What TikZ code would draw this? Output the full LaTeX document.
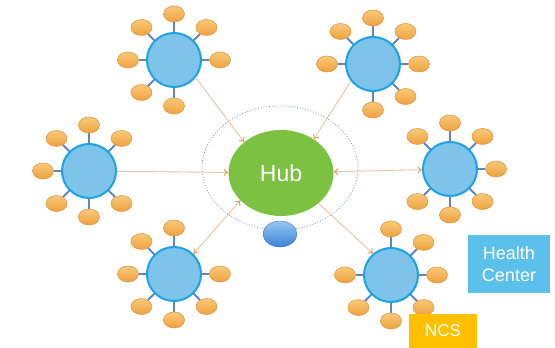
\documentclass[tikz,border=0pt]{standalone}
\usepackage{fontspec}
\setmainfont{Liberation Sans}
\usetikzlibrary{shapes.geometric,arrows.meta,calc}

\definecolor{hubgreen}{HTML}{7DC142}
\definecolor{cfill}{HTML}{7EC3EA}
\definecolor{cedge}{HTML}{1BA3E2}
\definecolor{sattop}{HTML}{F9C978}
\definecolor{satbot}{HTML}{EEA23F}
\definecolor{satedge}{HTML}{E0923A}
\definecolor{spokeblue}{HTML}{5E86C2}
\definecolor{linkcol}{HTML}{E2C4AE}
\definecolor{tipcol}{HTML}{EE9A50}
\definecolor{ringcol}{HTML}{7C8BA0}
\definecolor{dottop}{HTML}{95C8F2}
\definecolor{dotbot}{HTML}{3C82D4}
\definecolor{hcblue}{HTML}{5BC0EB}
\definecolor{ncsgold}{HTML}{FFC000}

\tikzset{
  hubnode/.style={ellipse, fill=hubgreen, minimum width=105pt, minimum height=86pt,
    inner sep=0pt, text=white, font=\fontsize{23}{23}\selectfont},
  cnode/.style={circle, fill=cfill, draw=cedge, line width=2pt, minimum size=54pt, inner sep=0pt},
  sat/.style={ellipse, draw=satedge, line width=0.5pt, top color=sattop, bottom color=satbot,
    minimum width=21pt, minimum height=16pt, inner sep=0pt},
  spoke/.style={draw=spokeblue, line width=2pt},
  link/.style={draw=linkcol, line width=0.9pt},
  tipend/.style={-{To[length=4.5pt,width=7pt,color=tipcol]}},
  tipboth/.style={{To[length=4.5pt,width=7pt,color=tipcol]}-{To[length=4.5pt,width=7pt,color=tipcol]}},
  ring/.style={ellipse, draw=ringcol, dotted, line width=0.8pt, minimum width=156pt, minimum height=124pt},
  dotnode/.style={ellipse, top color=dottop, bottom color=dotbot, draw=dotbot!80!black, line width=0.3pt,
    minimum width=34pt, minimum height=26pt, inner sep=0pt},
  labelbox/.style={rectangle, text=white, inner sep=0pt, align=center}
}

% a blue circle with orange satellites; #4 is the direction left free for the link
\newcommand\makecluster[4]{%
  \node[cnode] (#1) at (#2,#3) {};
  \foreach \a in {0,45,...,315}{%
    \ifnum\a=#4\relax\else
      \node[sat] (#1-\a) at ($(#1)+(\a:46pt)$) {};
      \draw[spoke] (#1.\a) -- (#1-\a);
    \fi
  }%
}

\begin{document}
\begin{tikzpicture}[x=1pt,y=-1pt]
  \useasboundingbox (0,0) rectangle (555,348);
  \fill[white] (0,0) rectangle (555,348);

  % dotted ring round the hub
  \node[ring] (ring) at (280,168) {};

  % clusters
  \makecluster{tl}{174}{60}{315}
  \makecluster{tr}{373}{64}{225}
  \makecluster{lf}{89}{171}{0}
  \makecluster{rt}{450}{169}{180}
  \makecluster{bl}{174}{274}{45}
  \makecluster{br}{391}{275}{135}

  % hub
  \node[hubnode] (hub) at (281,173) {Hub};
  \node[dotnode] (dot) at (280,234) {};

  % links
  \draw[link,tipend] (tl.321) -- (hub.140);
  \draw[link,tipend] (tr.218) -- (hub.46);
  \draw[link,tipend] (lf) -- (hub);
  \draw[link,tipboth] (hub) -- (rt);
  \draw[link,tipboth] (bl.46) -- (hub.214);
  \draw[link,tipend] (hub.321) -- (br.130);

  % labels
  \node[labelbox, fill=hcblue, minimum width=82pt, minimum height=58pt,
        font=\fontsize{18}{22}\selectfont] (hc) at (509,264) {Health\\Center};
  \node[labelbox, fill=ncsgold, minimum width=68pt, minimum height=34pt,
        font=\fontsize{17}{17}\selectfont] (ncs) at (443,331) {NCS};
\end{tikzpicture}
\end{document}
